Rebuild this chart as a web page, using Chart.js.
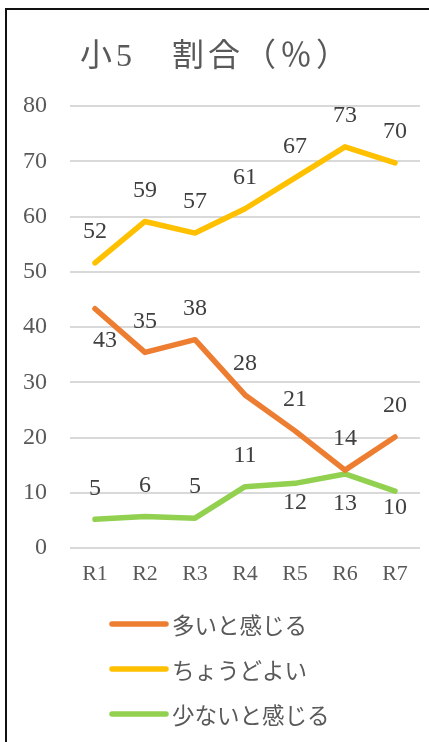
<!DOCTYPE html>
<html>
<head>
<meta charset="utf-8">
<script src="https://cdn.jsdelivr.net/npm/chart.js@4/dist/chart.umd.min.js"></script>
<style>
html,body{margin:0;padding:0;background:#fff;}
#wrap{width:429px;height:742px;position:relative;}
</style>
</head>
<body>
<div id="wrap"><canvas id="c" width="429" height="742"></canvas></div>
<script>
const titleText = '小5　割合（％）';
const categories = ['R1','R2','R3','R4','R5','R6','R7'];
const seriesNames = ['多いと感じる','ちょうどよい','少ないと感じる'];
const manyValues = [43.3, 35.4, 37.7, 27.7, 21.2, 14.1, 20.1];
const justRightValues = [51.6, 59.1, 57.0, 61.4, 67.0, 72.6, 69.7];
const fewValues = [5.2, 5.7, 5.4, 11.1, 11.7, 13.4, 10.3];
const yTicks = [0,10,20,30,40,50,60,70,80];

const colors = ['#ED7D31','#FFC000','#92D050'];
const SERIF = '"Liberation Serif", "Noto Sans CJK JP", serif';
const CJK = '"Noto Sans CJK JP", sans-serif';

// label offsets [dx, dy] per dataset per point (default above)
const labelOffsets = [
  [[10,32],null,null,null,null,null,null],
  [null,null,null,null,null,null,null],
  [null,null,null,null,[0,19],[0,30],[0,17]]
];

const framePlugin = {
  id:'frame',
  beforeDraw(chart){
    const ctx = chart.ctx;
    ctx.save();
    ctx.fillStyle = '#fff';
    ctx.fillRect(0,0,chart.width,chart.height);
    ctx.strokeStyle = '#111';
    ctx.lineWidth = 2;
    ctx.beginPath();
    ctx.moveTo(6, chart.height);
    ctx.lineTo(6, 9);
    ctx.lineTo(chart.width, 9);
    ctx.stroke();
    // title
    ctx.fillStyle = '#595959';
    ctx.font = '32px ' + SERIF;
    ctx.textBaseline = 'middle';
    ctx.textAlign = 'left';
    try { ctx.letterSpacing = '4px'; } catch(e) {}
    ctx.fillText(titleText, 80, 58);
    try { ctx.letterSpacing = '0px'; } catch(e) {}
    ctx.restore();
  },
  afterDatasetsDraw(chart){
    const ctx = chart.ctx;
    ctx.save();
    ctx.font = '24px ' + SERIF;
    ctx.fillStyle = '#404040';
    ctx.textAlign = 'center';
    ctx.textBaseline = 'middle';
    chart.data.datasets.forEach((ds, di) => {
      const meta = chart.getDatasetMeta(di);
      meta.data.forEach((pt, i) => {
        const off = labelOffsets[di][i] || [0,-31];
        ctx.fillText(String(Math.round(ds.data[i])), pt.x + off[0], pt.y + off[1]);
      });
    });
    ctx.restore();
  },
  afterDraw(chart){
    const ctx = chart.ctx;
    ctx.save();
    chart.data.datasets.forEach((ds, di) => {
      const y = 624 + di*45;
      ctx.strokeStyle = ds.borderColor;
      ctx.lineWidth = 5.5;
      ctx.lineCap = 'round';
      ctx.beginPath();
      ctx.moveTo(112, y);
      ctx.lineTo(166, y);
      ctx.stroke();
      ctx.fillStyle = '#595959';
      ctx.font = '22.5px ' + CJK;
      ctx.textAlign = 'left';
      ctx.textBaseline = 'middle';
      ctx.fillText(ds.label, 172, y + 1);
    });
    ctx.restore();
  }
};

const mk = (i, data) => ({
  label: seriesNames[i], data, borderColor: colors[i], backgroundColor: colors[i],
  borderWidth: 5.5, pointRadius: 0, borderCapStyle: 'round', borderJoinStyle: 'round', tension: 0
});

new Chart(document.getElementById('c'), {
  type: 'line',
  data: {
    labels: categories,
    datasets: [mk(0, manyValues), mk(1, justRightValues), mk(2, fewValues)]
  },
  plugins: [framePlugin],
  options: {
    responsive: false,
    animation: false,
    layout: { padding: { left: 0, right: 9, top: 106, bottom: 154 } },
    plugins: { legend: { display: false }, title: { display: false }, tooltip: { enabled: false } },
    scales: {
      x: {
        offset: true,
        grid: { display: false, drawTicks: false },
        border: { display: false },
        ticks: { color: '#595959', font: { family: SERIF, size: 22 }, padding: 13 },
        afterFit(s){ s.height = 40; }
      },
      y: {
        min: 0, max: 80,
        afterBuildTicks(s){ s.ticks = yTicks.map(v => ({ value: v })); },
        grid: { color: '#d9d9d9', lineWidth: 2, drawTicks: false },
        border: { display: false },
        ticks: { color: '#595959', font: { family: SERIF, size: 24 }, padding: 23 },
        afterFit(s){ s.width = 70; }
      }
    }
  }
});
</script>
</body>
</html>
